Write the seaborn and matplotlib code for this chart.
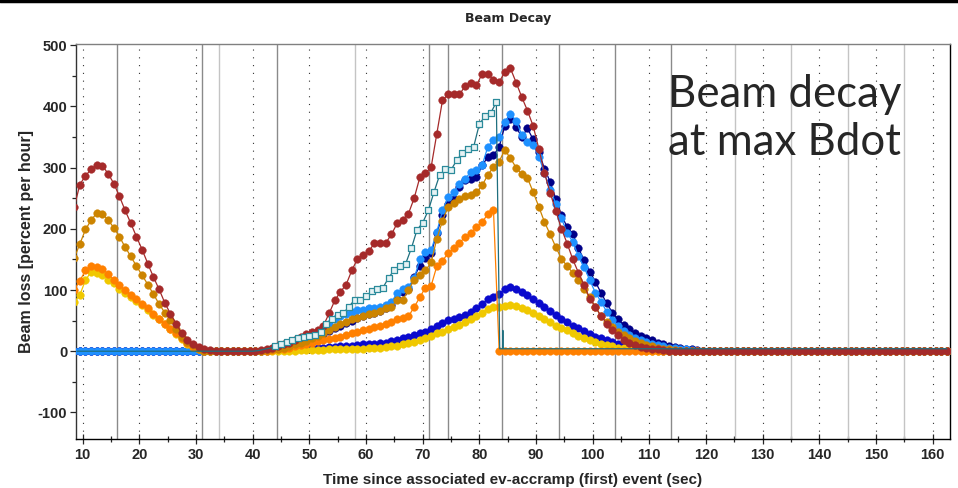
import numpy as np
import pandas as pd
import seaborn as sns
import matplotlib.pyplot as plt
from matplotlib.lines import Line2D
from matplotlib.ticker import MultipleLocator

# --- data (1 s sampling) ---
t_grid = np.arange(8.5, 163.0, 1.0)

brown_left = [235, 272, 287, 297, 305, 303, 290, 274, 253, 230, 209, 187, 166, 143, 121,
              101, 79, 61, 45, 29, 19, 12, 7, 4, 2]                     # from t=8.5
brown_right = [1, 2, 4, 6, 8, 11, 14, 18, 23, 28,
               32, 34, 42, 62, 83, 97, 109, 132, 151, 158,
               163, 177, 177, 177, 191, 209, 215, 225, 250, 284,
               291, 301, 355, 410, 420, 420, 420, 433, 439, 435,
               453, 453, 444, 440, 456, 462, 439, 415, 393, 368,
               331, 291, 259, 229, 200, 176, 150, 128, 108, 86,
               72, 57, 45, 34, 26, 19, 14, 10, 7, 5,
               4, 3, 2, 1, 1, 0]                                          # from t=40.5

goldenrod_left = [152, 175, 199, 214, 226, 225, 214, 202, 187, 170, 155, 139, 124, 109, 93,
                  77, 63, 51, 37, 23, 15, 10, 4, 1]
goldenrod_right = [0, 1, 2, 3, 4, 6, 8, 11, 14, 17,
                   21, 25, 29, 34, 39, 44, 48, 52, 55, 58,
                   61, 63, 66, 70, 73, 83, 84, 100, 116, 125,
                   132, 145, 184, 213, 236, 242, 249, 254, 256, 260,
                   271, 288, 301, 310, 329, 315, 300, 289, 283, 260,
                   236, 211, 191, 170, 151, 139, 128, 116, 101, 88,
                   72, 57, 48, 40, 32, 26, 21, 17, 13, 10,
                   8, 6, 4, 3, 2, 1]

orange_left = [100, 115, 132, 140, 138, 135, 126, 117, 108, 100, 92, 85, 77, 70, 61,
               53, 45, 37, 29, 21, 13, 7, 3, 1]
orange_right = [0, 0, 1, 2, 3, 4, 6, 8, 10, 12,
                14, 16, 18, 20, 22, 24, 26, 29, 32, 35,
                37, 39, 41, 44, 48, 52, 54, 57, 72, 88,
                104, 107, 139, 148, 160, 168, 177, 187, 193, 203,
                211, 224, 230]

gold_left = [80, 92, 116, 130, 127, 124, 117, 111, 102, 95, 89, 82, 75, 68, 59,
             52, 44, 36, 28, 20, 12, 7, 3, 1]
gold_right = [0, 0, 0, 1, 1, 1, 1, 1, 2, 2,
              2, 2, 2, 3, 3, 3, 3, 4, 4, 4,
              5, 5, 6, 7, 8, 9, 11, 13, 15, 18,
              21, 25, 29, 32, 36, 40, 43, 48, 53, 58,
              63, 69, 72, 73, 74, 75, 74, 71, 67, 62,
              57, 52, 47, 42, 38, 34, 30, 25, 22, 19,
              15, 12, 10, 8, 6, 5, 4, 3, 2, 1, 1]

blue_right = [0, 1, 1, 2, 2, 3, 3, 4, 4, 5,
              5, 6, 6, 7, 7, 8, 8, 9, 10, 11,
              11, 12, 13, 14, 16, 18, 21, 23, 26, 29,
              32, 37, 41, 46, 51, 53, 56, 59, 64, 70,
              77, 85, 89, 94, 101, 105, 101, 97, 92, 86,
              79, 72, 66, 59, 53, 47, 42, 38, 33, 28,
              24, 21, 18, 15, 12, 10, 8, 6, 5, 4,
              3, 2, 1, 1, 0]

dodger_right = [0, 1, 2, 3, 5, 7, 9, 12, 16, 20,
                25, 30, 37, 45, 52, 57, 61, 64, 67, 68,
                70, 71, 73, 75, 80, 95, 102, 105, 119, 150,
                162, 165, 195, 230, 252, 260, 274, 282, 293, 296,
                304, 334, 345, 350, 375, 387, 377, 353, 342, 337,
                318, 291, 264, 241, 217, 193, 179, 155, 137, 116,
                95, 81, 64, 51, 41, 33, 27, 22, 18, 15,
                12, 10, 8, 6, 5, 4, 3, 2, 1]

navy_right = [0, 1, 2, 3, 4, 6, 8, 10, 13, 16,
              20, 24, 28, 33, 38, 42, 46, 50, 54, 57,
              60, 63, 66, 70, 76, 86, 97, 101, 121, 140,
              152, 160, 193, 222, 240, 248, 268, 279, 282, 284,
              304, 317, 320, 334, 368, 380, 366, 350, 364, 346,
              326, 298, 277, 249, 222, 203, 192, 168, 149, 130,
              113, 95, 78, 63, 52, 43, 36, 30, 25, 21,
              18, 14, 12, 9, 7, 5, 4, 3, 2, 1]

# teal open-square trace (whole seconds), then its drop / flat tail
t_teal = np.arange(44.0, 84.0, 1.0)
teal_rise = [8, 11, 15, 18, 21, 24, 25,
             26, 32, 45, 53, 59, 62, 73, 84, 84, 90,
             98, 102, 104, 120, 133, 139, 143, 168, 198, 210,
             230, 260, 288, 297, 296, 312, 324, 330, 334, 371,
             384, 389, 407]
teal_head_t = [9.0, 40.0, 41.0, 42.0, 43.0]
teal_head_v = [0, 0, 1, 3, 5]
teal_tail_t = [83.6, 84.1, 84.15, 84.2, 162.5]
teal_tail_v = [4, 4, 34, 4, 4]

# event markers (solid vertical lines)
event_t = [16.1, 31.1, 34.0, 44.3, 58.05, 71.05, 74.5, 84.0, 94.1, 104.0, 113.9,
           125.1, 135.0, 145.0, 154.9]
event_dark = [1, 1, 0, 1, 0, 1, 1, 1, 1, 1, 1, 0, 0, 0, 0]


def on_grid(*parts):
    y = np.zeros(len(t_grid))
    for t0, vals in parts:
        i0 = int(round(t0 - t_grid[0]))
        y[i0:i0 + len(vals)] = vals
    return y


series = [
    ("navy", on_grid((40.5, navy_right)), "#000088"),
    ("blue", on_grid((40.5, blue_right)), "#0a0acd"),
    ("dodger", on_grid((40.5, dodger_right)), "#1e90ff"),
    ("gold", on_grid((8.5, gold_left), (40.5, gold_right)), "#f0c800"),
    ("orange", on_grid((8.5, orange_left), (40.5, orange_right)), "#ff8000"),
    ("goldenrod", on_grid((8.5, goldenrod_left), (40.5, goldenrod_right)), "#cc8400"),
    ("brown", on_grid((8.5, brown_left), (40.5, brown_right)), "#a52a2a"),
]

sns.set_style("white")
plt.rcParams["font.family"] = ["Liberation Sans", "DejaVu Sans"]
plt.rcParams["axes.unicode_minus"] = False

fig = plt.figure(figsize=(9.58, 4.88), dpi=100)
ax = fig.add_axes([0.079, 0.101, 0.9126, 0.8088])

for t, d in zip(event_t, event_dark):
    ax.axvline(t, color="#8a8a8a" if d else "#c4c4c4", lw=1.0, zorder=1)

for i, (name, vals, col) in enumerate(series):
    sns.lineplot(x=t_grid, y=vals, color=col, marker="o", markersize=5.5,
                 markeredgecolor=col, markeredgewidth=0.3, linewidth=0.9,
                 ax=ax, zorder=3 + i)

# teal trace: line + open squares
teal_t_all = np.concatenate([teal_head_t, t_teal, teal_tail_t])
teal_v_all = np.concatenate([teal_head_v, teal_rise, teal_tail_v])
ax.plot(teal_t_all, teal_v_all, color="#1f6f7f", lw=0.9, zorder=12)
sns.scatterplot(x=t_teal, y=teal_rise, marker="s", s=22, color="#e6f2f4",
                edgecolor="#2b8b9b", linewidth=0.9, ax=ax, zorder=13)

ax.set_xlim(8.77, 163.05)
ax.set_ylim(-143, 502)
ax.xaxis.set_major_locator(MultipleLocator(10))
ax.xaxis.set_minor_locator(MultipleLocator(5))
ax.yaxis.set_major_locator(MultipleLocator(100))
ax.yaxis.set_minor_locator(MultipleLocator(50))
ax.grid(axis="x", which="major", color="#333333", linestyle=(0, (1, 6)), lw=0.8)
ax.set_axisbelow(True)

ax.tick_params(axis="x", which="major", direction="inout", length=7, width=0.9,
               bottom=True, labelsize=10.5, pad=3)
ax.tick_params(axis="x", which="minor", direction="inout", length=5, width=0.9, bottom=True)
ax.tick_params(axis="y", which="major", direction="out", length=4, width=0.9,
               left=True, labelsize=10.5, pad=2)
ax.tick_params(axis="y", which="minor", direction="out", length=3, width=0.9, left=True)
for lab in ax.get_xticklabels() + ax.get_yticklabels():
    lab.set_fontweight("bold")

for s, c in [("left", "#333333"), ("bottom", "#000000"), ("top", "#808080"), ("right", "#000000")]:
    ax.spines[s].set_visible(True)
    ax.spines[s].set_color(c)
    ax.spines[s].set_linewidth(1.0)

ax.set_xlabel("Time since associated ev-accramp (first) event (sec)", fontsize=11,
              fontweight="bold", labelpad=8)
ax.set_ylabel("Beam loss [percent per hour]", fontsize=11.5, fontweight="bold", labelpad=3)
fig.text(0.530, 0.963, "Beam Decay", ha="center", va="center", fontsize=9,
         fontweight="bold", family="DejaVu Sans")
fig.text(0.697, 0.848, "Beam decay\nat max Bdot", ha="left", va="top", fontsize=31.5,
         family="Lato", linespacing=1.22)
fig.add_artist(Line2D([0, 1], [0.998, 0.998], color="black", lw=2.5))

fig.savefig("out.png", dpi=100, facecolor="white")
